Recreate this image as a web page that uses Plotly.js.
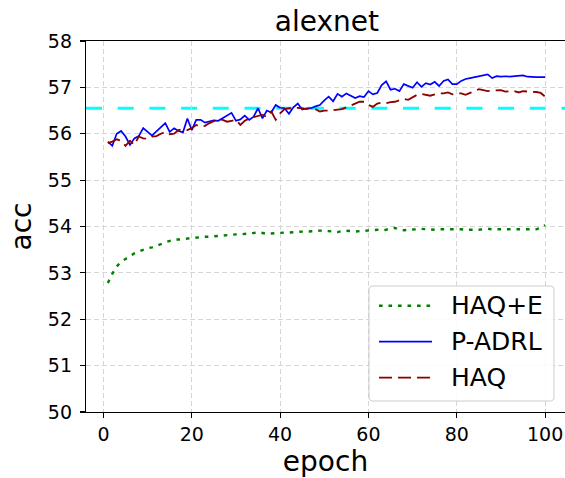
<!DOCTYPE html>
<html>
<head>
<meta charset="utf-8">
<script src="https://cdn.plot.ly/plotly-3.0.1.min.js"></script>
<style>html,body{margin:0;padding:0;background:#fff;}#chart{width:565px;height:478px;}</style>
</head>
<body>
<div id="chart"></div>
<script>
const epochs = Array.from({length: 100}, (_, i) => i + 1);

const haqE = [
 52.78,52.98,53.14,53.24,53.30,53.37,53.42,53.46,53.50,53.53,
 53.55,53.58,53.62,53.66,53.69,53.72,53.72,53.72,53.74,53.75,
 53.76,53.78,53.78,53.78,53.79,53.80,53.81,53.82,53.82,53.83,
 53.83,53.84,53.84,53.86,53.88,53.86,53.84,53.85,53.86,53.87,
 53.87,53.87,53.88,53.88,53.89,53.89,53.90,53.90,53.91,53.91,
 53.90,53.89,53.88,53.90,53.91,53.90,53.89,53.90,53.91,53.92,
 53.93,53.93,53.92,53.93,53.96,53.97,53.93,53.92,53.93,53.93,
 53.94,53.95,53.94,53.93,53.93,53.94,53.94,53.95,53.95,53.95,
 53.94,53.93,53.93,53.92,53.93,53.94,53.95,53.94,53.94,53.94,
 53.95,53.95,53.95,53.94,53.94,53.94,53.94,53.94,53.97,54.03
];

const pAdrl = [
 55.83,55.74,56.00,56.06,55.94,55.76,55.90,55.95,56.12,56.05,
 55.96,56.05,56.15,56.23,56.04,56.12,56.06,56.03,56.33,56.08,
 56.30,56.30,56.24,56.26,56.29,56.28,56.34,56.40,56.45,56.28,
 56.31,56.39,56.30,56.37,56.55,56.33,56.50,56.46,56.62,56.56,
 56.55,56.43,56.57,56.65,56.52,56.55,56.55,56.59,56.62,56.72,
 56.80,56.70,56.86,56.80,56.87,56.82,56.77,56.81,56.79,56.92,
 56.85,56.88,57.05,57.13,56.95,56.97,56.92,57.07,57.03,56.99,
 57.11,57.01,57.09,57.06,57.12,57.03,57.14,57.17,57.07,57.07,
 57.14,57.18,57.20,57.22,57.24,57.25,57.28,57.20,57.24,57.23,
 57.24,57.23,57.24,57.25,57.26,57.23,57.22,57.22,57.22,57.22
];

const haq = [
 55.80,55.83,55.88,55.85,55.74,55.85,55.76,55.94,55.90,55.89,
 55.94,55.95,56.00,56.04,55.99,56.00,56.08,56.10,56.08,56.12,
 56.19,56.15,56.17,56.23,56.27,56.31,56.30,56.26,56.28,56.30,
 56.19,56.28,56.33,56.36,56.38,56.41,56.36,56.48,56.30,56.44,
 56.53,56.55,56.55,56.56,56.55,56.53,56.56,56.53,56.48,56.50,
 56.50,56.51,56.53,56.53,56.57,56.61,56.64,56.69,56.69,56.62,
 56.58,56.65,56.67,56.66,56.68,56.69,56.72,56.75,56.73,56.78,
 56.84,56.86,56.84,56.82,56.85,56.87,56.87,56.89,56.85,56.87,
 56.87,56.84,56.88,56.92,56.96,56.94,56.92,56.93,56.93,56.94,
 56.91,56.91,56.92,56.89,56.92,56.91,56.91,56.90,56.88,56.80
];

const baseline = [56.55];
const xTicks = [0, 20, 40, 60, 80, 100];
const yTicks = [50, 51, 52, 53, 54, 55, 56, 57, 58];
const seriesNames = ['HAQ+E', 'P-ADRL', 'HAQ'];
const seriesValues = [haqE, pAdrl, haq];
const seriesStyles = [
  {color: '#008000', width: 2.4, dash: '3.6px,5.9px'},
  {color: '#0000ff', width: 1.7, dash: 'solid'},
  {color: '#8b0000', width: 1.8, dash: '13px,6px'}
];

const FONT = 'DejaVu Sans, sans-serif';

const traces = seriesNames.map((name, i) => ({
  x: epochs, y: seriesValues[i], name: name, mode: 'lines',
  line: seriesStyles[i], showlegend: false
}));

// Legend drawn in paper coordinates (matplotlib-style box)
const L = {x0: 0.5908, x1: 0.977, y0: 0.0296, y1: 0.3396, rx: 0.0084, ry: 0.0108};
const legendPath =
  `M ${L.x0 + L.rx},${L.y0} L ${L.x1 - L.rx},${L.y0} Q ${L.x1},${L.y0} ${L.x1},${L.y0 + L.ry} ` +
  `L ${L.x1},${L.y1 - L.ry} Q ${L.x1},${L.y1} ${L.x1 - L.rx},${L.y1} ` +
  `L ${L.x0 + L.rx},${L.y1} Q ${L.x0},${L.y1} ${L.x0},${L.y1 - L.ry} ` +
  `L ${L.x0},${L.y0 + L.ry} Q ${L.x0},${L.y0} ${L.x0 + L.rx},${L.y0} Z`;
const rowY = [0.2865, 0.1895, 0.0925];
const sampleX = [0.6117, 0.7223];
const textX = 0.7578;

const shapes = [{
  type: 'line', xref: 'paper', x0: 0, x1: 1, yref: 'y', y0: baseline[0], y1: baseline[0],
  line: {color: '#00ffff', width: 3.2, dash: '16px,15.7px'}, layer: 'below'
}, {
  type: 'path', xref: 'paper', yref: 'paper', path: legendPath,
  fillcolor: 'rgba(255,255,255,0.85)', line: {color: '#cccccc', width: 1}, layer: 'above'
}];
seriesNames.forEach((n, i) => {
  shapes.push({type: 'line', xref: 'paper', yref: 'paper',
    x0: sampleX[0], x1: sampleX[1], y0: rowY[i], y1: rowY[i],
    line: seriesStyles[i], layer: 'above'});
});
const annotations = seriesNames.map((n, i) => ({
  text: n, xref: 'paper', yref: 'paper', x: textX, y: rowY[i],
  xanchor: 'left', yanchor: 'middle', showarrow: false,
  font: {family: FONT, size: 25, color: '#000'}
}));

const layout = {
  width: 565, height: 478,
  margin: {l: 86, r: 0, t: 41, b: 66, pad: 0},
  paper_bgcolor: '#ffffff', plot_bgcolor: '#ffffff',
  font: {family: FONT, color: '#000', size: 19},
  title: {text: 'alexnet', font: {family: FONT, size: 28, color: '#000'},
          x: 0.503, xref: 'paper', xanchor: 'center', y: 0.955, yref: 'container', yanchor: 'middle'},
  xaxis: {
    range: [-3.95, 104.5], tickvals: xTicks, ticktext: xTicks.map(String),
    showline: true, linecolor: '#000', linewidth: 1.2, mirror: true,
    ticks: 'outside', ticklen: 5, tickwidth: 1.2, tickcolor: '#000',
    showgrid: true, gridcolor: '#d6d6d6', gridwidth: 1, griddash: '5px,3px',
    zeroline: false, tickfont: {family: FONT, size: 19, color: '#000'},
    title: {text: 'epoch', font: {family: FONT, size: 28, color: '#000'}, standoff: 9}
  },
  yaxis: {
    range: [50, 58], tickvals: yTicks, ticktext: yTicks.map(String),
    showline: true, linecolor: '#000', linewidth: 1.2, mirror: true,
    ticks: 'outside', ticklen: 5, tickwidth: 1.2, tickcolor: '#000', ticklabelstandoff: 4,
    showgrid: true, gridcolor: '#d6d6d6', gridwidth: 1, griddash: '5px,3px',
    zeroline: false, tickfont: {family: FONT, size: 19, color: '#000'},
    title: {text: 'acc', font: {family: FONT, size: 28, color: '#000'}, standoff: 8}
  },
  shapes: shapes,
  annotations: annotations,
  showlegend: false
};

Plotly.newPlot('chart', traces, layout, {displayModeBar: false, staticPlot: true});
</script>
</body>
</html>
